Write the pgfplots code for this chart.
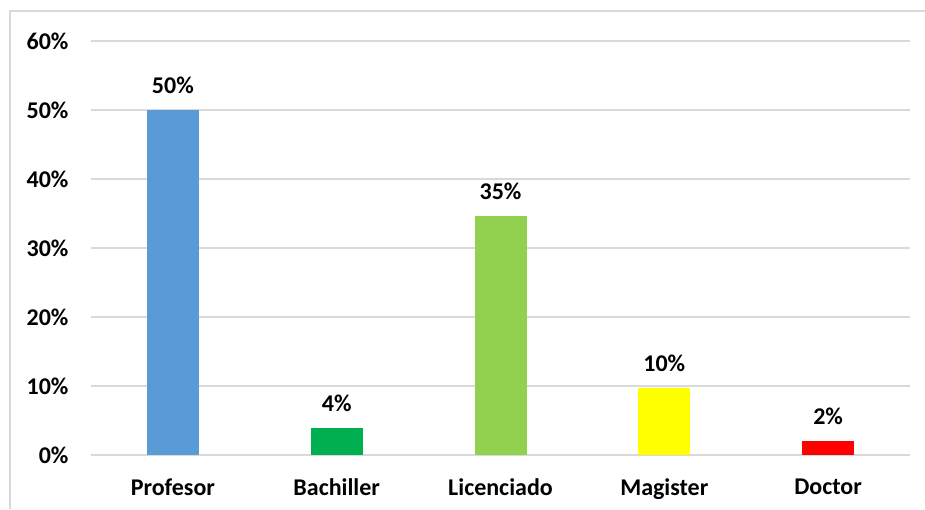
\documentclass[border=0pt]{standalone}
\usepackage{fontspec}
\setmainfont{Carlito}
\usepackage{pgfplots}
\pgfplotsset{compat=1.18}
\definecolor{gridc}{HTML}{D9D9D9}
\definecolor{cblue}{HTML}{5B9BD5}
\definecolor{cgreen}{HTML}{00B050}
\definecolor{clgreen}{HTML}{92D050}
\definecolor{cyellow}{HTML}{FFFF00}
\definecolor{cred}{HTML}{FF0000}
\begin{document}
\begin{tikzpicture}[x=1pt,y=1pt]
\useasboundingbox (0,0) rectangle (925,509);
\fill[white] (0,0) rectangle (925,509);
\draw[gridc, line width=1.5pt] (10,0) -- (10,498) -- (925,498);
\begin{axis}[
  at={(91pt,54pt)}, anchor=south west,
  scale only axis, width=819pt, height=414pt,
  ybar, bar width=52pt, bar shift=0pt,
  xmin=-0.5, xmax=4.5, ymin=0, ymax=60,
  xtick={0,1,2,3,4},
  xticklabels={Profesor,Bachiller,Licenciado,Magister,Doctor},
  ytick={0,10,20,30,40,50,60},
  yticklabel={\pgfmathprintnumber{\tick}\%},
  /pgf/number format/assume math mode=true,
  ymajorgrids, grid style={gridc, line width=1.5pt},
  axis line style={draw=none},
  axis x line*=bottom, axis y line*=left,
  x axis line style={gridc, line width=1.5pt},
  tick style={draw=none},
  ticklabel style={font=\fontsize{24}{28}\selectfont\bfseries},
  yticklabel style={xshift=-19pt},
  xticklabel style={yshift=-16pt},
  nodes near coords,
  point meta=explicit symbolic,
  every node near coord/.append style={font=\fontsize{24}{28}\selectfont\bfseries, black, yshift=13pt},
  clip=false,
]
\addplot[fill=cblue, draw=none] coordinates {(0,50) [50\%]};
\addplot[fill=cgreen, draw=none] coordinates {(1,3.9) [4\%]};
\addplot[fill=clgreen, draw=none] coordinates {(2,34.6) [35\%]};
\addplot[fill=cyellow, draw=none] coordinates {(3,9.7) [10\%]};
\addplot[fill=cred, draw=none] coordinates {(4,2.0) [2\%]};
\end{axis}
\end{tikzpicture}
\end{document}
